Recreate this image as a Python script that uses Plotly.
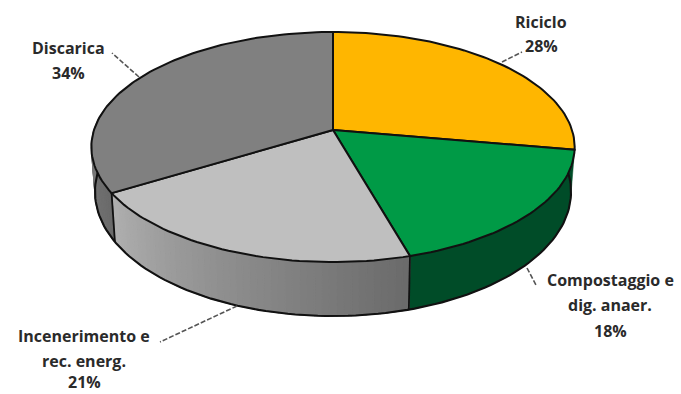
import math
import plotly.graph_objects as go

categories = ["Riciclo", "Compostaggio e dig. anaer.", "Incenerimento e rec. energ.", "Discarica"]
values = [28, 18, 21, 34]
label_lines = [["Riciclo", "28%"], ["Compostaggio e", "dig. anaer.", "18%"],
               ["Incenerimento e", "rec. energ.", "21%"], ["Discarica", "34%"]]

# Styles
top_colors = ["#FFB600", "#009A46", "#BFBFBF", "#808080"]
side_stops = [None, [(0, "#004C28"), (1, "#004C28")],
              [(0, "#B0B0B0"), (0.35, "#979797"), (1, "#6A6A6A")],
              [(0, "#6A6A6A"), (1, "#858585")]]
OUTLINE = "#111111"

# Projection of the disc
CX, CY, A, B, K = 333, 130, 239, 112.5, 0.148


def top_point(deg):
    t = math.radians(deg)
    u, v = math.sin(t), math.cos(t)
    w = 1 + K * v
    return CX + A * u / w, CY - B * v / w


def bottom_point(deg):
    x, y = top_point(deg)
    v = math.cos(math.radians(deg))
    return CX + (x - CX) * 0.985, y + 43 - 11 * v


def hexrgb(c):
    return [int(c[i:i + 2], 16) for i in (1, 3, 5)]


def mix(stops, f):
    for (f0, c0), (f1, c1) in zip(stops, stops[1:]):
        if f <= f1:
            g = (f - f0) / (f1 - f0)
            a, b = hexrgb(c0), hexrgb(c1)
            return "rgb(%d,%d,%d)" % tuple(round(a[i] + (b[i] - a[i]) * g) for i in range(3))
    return stops[-1][1]


total = sum(values)
edges = [0]
for val in values:
    edges.append(edges[-1] + val / total * 360)

fig = go.Figure()


def poly(xs, ys, fill, line, width):
    fig.add_trace(go.Scatter(x=xs, y=ys, mode="lines", fill="toself" if fill else "none",
                             fillcolor=fill, line=dict(color=line, width=width),
                             hoverinfo="skip", showlegend=False))


# Side walls
for i in (1, 2, 3):
    a0 = max(edges[i], 70)
    a1 = min(edges[i + 1], 290)
    n = max(1, int((a1 - a0) / 1.5))
    samples = [a0 + (a1 - a0) * k / n for k in range(n + 1)]
    tp = [top_point(d) for d in samples]
    bp = [bottom_point(d) for d in reversed(samples)]
    whole = tp + bp + tp[:1]
    mid = mix(side_stops[i], 0.5)
    poly([q[0] for q in whole], [q[1] for q in whole], mid, mid, 0.5)
    if side_stops[i][0][1] == side_stops[i][1][1]:
        continue
    for j in range(n):
        d0, d1 = samples[j], samples[j + 1]
        p = [top_point(d0), top_point(d1), bottom_point(d1), bottom_point(d0)]
        col = mix(side_stops[i], 1 - (j + 0.5) / n if i == 2 else (j + 0.5) / n)
        poly([q[0] for q in p] + [p[0][0]], [q[1] for q in p] + [p[0][1]], col, col, 1.2)

# Lower rim and wall edges
rim = [bottom_point(70 + k * 220 / 140) for k in range(141)]
poly([q[0] for q in rim], [q[1] for q in rim], None, OUTLINE, 2.1)
for e in edges[2:4]:
    t, b = top_point(e), bottom_point(e)
    poly([t[0], b[0]], [t[1], b[1]], None, OUTLINE, 1.8)

# Top face
for i in range(len(values)):
    n = max(2, int((edges[i + 1] - edges[i]) / 1.5))
    pts = [top_point(edges[i] + (edges[i + 1] - edges[i]) * k / n) for k in range(n + 1)]
    xs = [CX] + [q[0] for q in pts] + [CX]
    ys = [CY] + [q[1] for q in pts] + [CY]
    poly(xs, ys, top_colors[i], OUTLINE, 2.0)

# Leader lines
leaders = [[(502, 62), (522, 52)], [(527, 268), (536, 285)],
           [(237, 306), (160, 342)], [(139, 77), (112, 53)]]
for seg in leaders:
    fig.add_trace(go.Scatter(x=[seg[0][0], seg[1][0]], y=[seg[0][1], seg[1][1]], mode="lines",
                             line=dict(color="#555555", width=1.6, dash="5px,2px"),
                             hoverinfo="skip", showlegend=False))

# Labels
label_x = [541, 610, 84, 68]
label_y = [[22, 46], [280, 305, 331], [336, 361, 382], [48, 73]]
ann = []
for lines, lx, lys in zip(label_lines, label_x, label_y):
    for text, ly in zip(lines, lys):
        ann.append(dict(x=lx, y=ly, text="<b>%s</b>" % text, showarrow=False, xref="x", yref="y",
                        xanchor="center", yanchor="middle", borderpad=0,
                        font=dict(family="Open Sans", size=16, color="#2A2A2A")))

fig.update_layout(width=681, height=394, margin=dict(l=0, r=0, t=0, b=0),
                  paper_bgcolor="white", plot_bgcolor="white", annotations=ann,
                  xaxis=dict(range=[0, 681], visible=False, fixedrange=True),
                  yaxis=dict(range=[394, 0], visible=False, fixedrange=True))
fig.write_html("out.html", config=dict(displayModeBar=False),
               post_script="document.body.style.margin='0';document.documentElement.style.overflow='hidden';")
